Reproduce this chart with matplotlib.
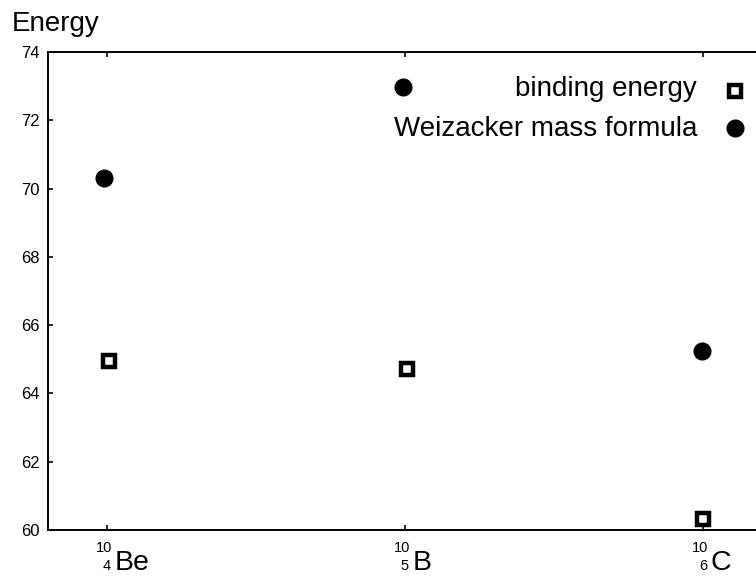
import matplotlib
matplotlib.use("Agg")
import matplotlib.pyplot as plt
from matplotlib.lines import Line2D

plt.rcParams['font.family'] = ['Liberation Sans', 'DejaVu Sans']

# Data
isotopes = ["Be", "B", "C"]
mass_number = ["10", "10", "10"]
atomic_number = ["4", "5", "6"]
positions = [1, 2, 3]
binding_energy = [64.96, 64.72, 60.33]
weizacker = [70.32, 72.98, 65.23]
binding_x_offset = [0.006, 0.008, 0.0]
weizacker_x_offset = [-0.010, -0.006, -0.002]
yticks = [60, 62, 64, 66, 68, 70, 72, 74]

W, H = 756, 580
fig = plt.figure(figsize=(W / 100, H / 100), dpi=100)
ax = fig.add_axes([48 / W, 50 / H, 714 / W, 478 / H])

bx = [p + o for p, o in zip(positions, binding_x_offset)]
wx = [p + o for p, o in zip(positions, weizacker_x_offset)]
ax.plot(wx, weizacker, 'o', color='black', markersize=12, linestyle='none', clip_on=False)
ax.plot(bx, binding_energy, 's', markerfacecolor='white', markeredgecolor='black',
        markersize=9.3, markeredgewidth=3.2, linestyle='none', clip_on=False)

ax.set_xlim(1 - 59 / 298, 3 + 59 / 298)
ax.set_ylim(60, 74)
ax.set_yticks(yticks)
ax.set_yticklabels([str(v) for v in yticks], fontsize=12)
ax.set_xticks(positions)
ax.set_xticklabels([])
for s in ax.spines.values():
    s.set_linewidth(1.4)
ax.tick_params(direction='in', length=3.6, width=1.2, top=True, right=True, pad=6)

for p, m, z, sym in zip(positions, mass_number, atomic_number, isotopes):
    ax.annotate(sym, xy=(p, 0), xycoords=('data', 'axes fraction'),
                xytext=(5.6, -28.8), textcoords='offset points',
                ha='left', va='baseline', fontsize=20.5)
    ax.annotate(m, xy=(p, 0), xycoords=('data', 'axes fraction'),
                xytext=(3.6, -15.8), textcoords='offset points',
                ha='right', va='baseline', fontsize=10.5)
    ax.annotate(z, xy=(p, 0), xycoords=('data', 'axes fraction'),
                xytext=(2.9, -28.8), textcoords='offset points',
                ha='right', va='baseline', fontsize=10.5)

fig.text(12 / W, 1 - 31 / H, "Energy", fontsize=20, ha='left', va='baseline')

# legend (manual, right-justified text with marker after)
fig.text(697 / W, 1 - 96 / H, "binding energy", fontsize=20, ha='right', va='baseline')
fig.text(697 / W, 1 - 136 / H, "Weizacker mass formula", fontsize=20, ha='right', va='baseline')
fig.add_artist(Line2D([735 / W], [1 - 90.7 / H], marker='s', markerfacecolor='white',
                      markeredgecolor='black', markersize=9.3, markeredgewidth=3.2,
                      linestyle='none', transform=fig.transFigure))
fig.add_artist(Line2D([735 / W], [1 - 128 / H], marker='o', color='black',
                      markersize=12, linestyle='none', transform=fig.transFigure))

fig.savefig("out.png", dpi=100)
